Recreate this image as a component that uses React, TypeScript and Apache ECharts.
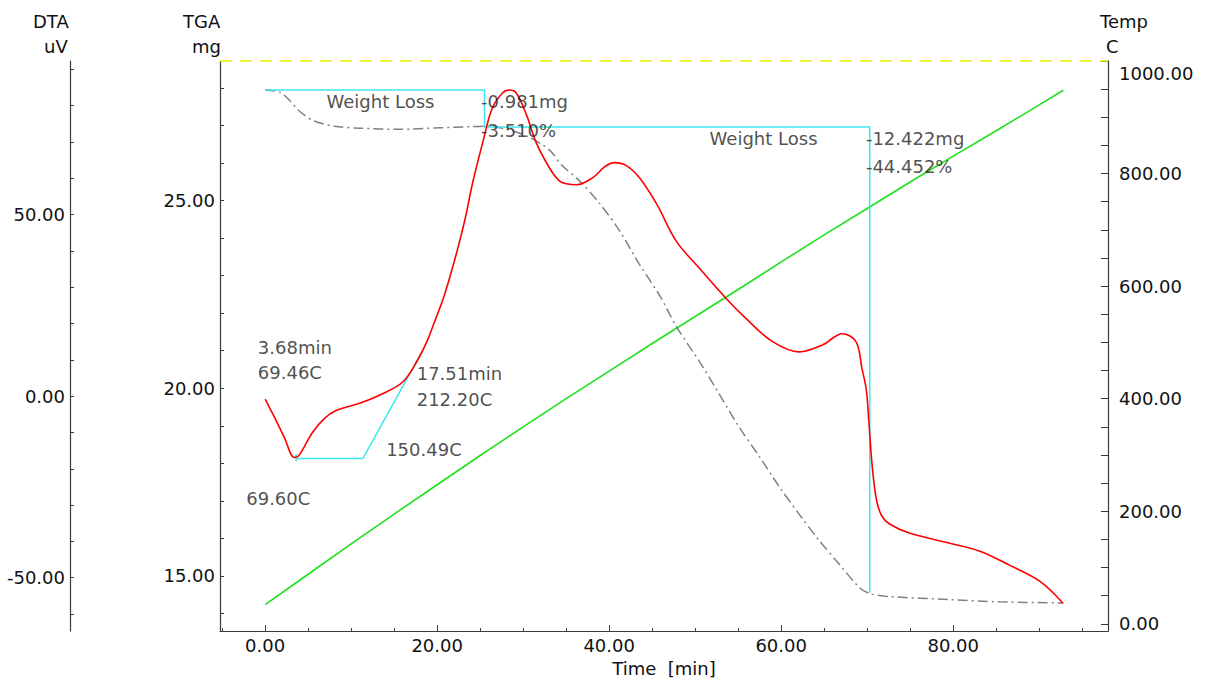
import React, { useEffect, useRef } from "react";
import * as echarts from "echarts";

const FONT = '"DejaVu Sans", "Liberation Sans", Arial, sans-serif';
const FS = 18;

// Axis ranges
const X_MIN = -5.25;
const X_MAX = 98;
const TGA_MIN = 13.53;
const TGA_MAX = 28.72;
const DTA_MIN = -64.7;
const DTA_MAX = 92.3;
const TEMP_MIN = -13;
const TEMP_MAX = 1000;

// Tick values
const xMinorTicks = [-5, 0, 5, 10, 15, 20, 25, 30, 35, 40, 45, 50, 55, 60, 65, 70, 75, 80, 85, 90, 95];
const xLabels = [0, 20, 40, 60, 80];
const tgaTicks = [14, 15, 16, 17, 18, 19, 20, 21, 22, 23, 24, 25, 26, 27, 28];
const tgaLabels = [15, 20, 25];
const dtaTicks = [-60, -50, -40, -30, -20, -10, 0, 10, 20, 30, 40, 50, 60, 70, 80, 90];
const dtaLabels = [-50, 0, 50];
const tempTicks = [0, 50, 100, 150, 200, 250, 300, 350, 400, 450, 500, 550, 600, 650, 700, 750, 800, 850, 900, 950, 1000];
const tempLabels = [0, 200, 400, 600, 800, 1000];

// TGA (mg) vs time (min)
const tgaTime = [0, 1.7, 2.8, 4.0, 5.7, 8.1, 11.0, 15.6, 20.3, 23.8, 26.1, 28.4, 30.7, 33.1, 34.5, 36.5, 38.9, 41.2, 43.5, 45.9, 47.8, 50.5, 52.5, 55.1, 57.5, 59.8, 62.1, 64.4, 66.8, 69.1, 70.3, 72.6, 79.6, 85.4, 92.7];
const tgaMass = [27.95, 27.89, 27.68, 27.38, 27.12, 26.98, 26.93, 26.9, 26.94, 26.97, 26.98, 26.88, 26.69, 26.34, 25.94, 25.54, 24.92, 24.2, 23.31, 22.46, 21.65, 20.71, 19.96, 18.97, 18.17, 17.37, 16.64, 15.95, 15.3, 14.69, 14.53, 14.45, 14.37, 14.31, 14.28];

// DTA (uV) vs time (min)
const dtaTime = [0, 1.08, 2.24, 3.4, 4.0, 5.5, 6.9, 8.3, 9.8, 11.3, 13.6, 16.0, 17.6, 18.8, 19.7, 20.8, 22.0, 23.2, 24.1, 25.3, 26.4, 27.6, 28.4, 29.2, 30.4, 31.5, 33.1, 34.2, 35.0, 36.2, 38.1, 39.5, 40.6, 42.0, 43.5, 45.5, 47.8, 50.5, 53.6, 55.9, 59.0, 62.1, 64.8, 67.1, 68.7, 69.4, 69.9, 70.2, 70.6, 71.1, 71.7, 72.6, 74.9, 79.6, 83.1, 86.6, 90.1, 92.8];
const dtaValue = [-0.8, -5.8, -11.4, -16.9, -16.1, -10.0, -6.1, -3.9, -2.8, -1.7, 0.6, 3.9, 9.4, 15.0, 20.5, 27.5, 37.2, 48.3, 58.5, 69.9, 79.3, 83.5, 84.3, 83.5, 77.4, 69.9, 62.7, 59.3, 58.5, 58.2, 60.2, 63.2, 64.3, 63.5, 60.2, 53.0, 42.7, 35.2, 26.9, 21.4, 15.0, 12.2, 14.1, 17.2, 15.0, 7.5, 1.7, -7.2, -19.7, -28.8, -33.0, -35.2, -37.7, -40.5, -42.7, -46.6, -51.0, -57.1];

// Temperature (C) vs time (min)
const tempTime = [0, 5, 10, 15, 20, 25, 30, 35, 40, 45, 50, 55, 60, 65, 70, 75, 80, 85, 90, 92.8];
const tempValue = [34, 88, 142, 195, 247, 299, 350, 400, 449, 498, 546, 594, 643, 691, 738, 785, 831, 876, 922, 948];

// Weight-loss step analysis (TGA axis)
const stepTime = [0, 25.5, 25.5, 70.3, 70.3];
const stepMass = [27.945, 27.945, 26.964, 26.964, 14.542];

// DTA onset analysis (DTA axis)
const onsetTime = [3.6, 11.35, 18.33];
const onsetValue = [-17.2, -17.2, 12.6];
const onsetTickTime = [3.6, 3.6];
const onsetTickValue = [-15.9, -17.9];

// Annotation texts placed in (time, TGA mg) coordinates
const annoText = ["Weight Loss", "-0.981mg", "-3.510%", "Weight Loss", "-12.422mg", "-44.452%", "3.68min", "69.46C", "17.51min", "212.20C", "150.49C", "69.60C"];
const annoTime = [13.41, 25.1, 25.1, 57.95, 69.85, 69.85, -0.85, -0.85, 17.62, 17.62, 14.07, -2.2];
const annoMass = [27.65, 27.65, 26.88, 26.66, 26.66, 25.91, 21.09, 20.42, 20.40, 19.70, 18.38, 17.05];
const annoAlign = ["center", "left", "left", "center", "left", "left", "left", "left", "left", "left", "left", "left"];

const zip = (a: number[], b: number[]) => a.map((v, i) => [v, b[i]]);

export default function App() {
  const ref = useRef<HTMLDivElement>(null);
  useEffect(() => {
    if (!ref.current) return;
    const chart = echarts.init(ref.current, null, { renderer: "svg" });
    const axisColor = "#3a3a3a";
    const labelStyle = { fontFamily: FONT, fontSize: FS, color: "#111" };
    const fmt2 = (v: number) => Number(v).toFixed(2);

    const option: any = {
      animation: false,
      backgroundColor: "#ffffff",
      grid: { left: 220, right: 100, top: 61, bottom: 48, containLabel: false },
      xAxis: [
        {
          type: "value",
          min: X_MIN,
          max: X_MAX,
          position: "bottom",
          axisLine: { show: true, onZero: false, lineStyle: { color: axisColor, width: 1.2 } },
          axisTick: { show: true, inside: true, length: 3, customValues: xMinorTicks, lineStyle: { color: axisColor } },
          axisLabel: { ...labelStyle, margin: 5, customValues: xLabels, formatter: fmt2 },
          splitLine: { show: false },
          name: "Time  [min]",
          nameLocation: "middle",
          nameGap: 27,
          nameTextStyle: { fontFamily: FONT, fontSize: FS, color: "#111" },
        },
        {
          type: "value",
          min: X_MIN,
          max: X_MAX,
          position: "bottom",
          axisLine: { show: false, onZero: false },
          axisTick: { show: true, inside: true, length: 6, customValues: xLabels, lineStyle: { color: axisColor } },
          axisLabel: { show: false },
          splitLine: { show: false },
        },
      ],
      yAxis: [
        {
          type: "value",
          min: TGA_MIN,
          max: TGA_MAX,
          position: "left",
          axisLine: { show: true, onZero: false, lineStyle: { color: axisColor, width: 1.2 } },
          axisTick: { show: true, inside: true, length: 4, customValues: tgaTicks, lineStyle: { color: axisColor } },
          axisLabel: { ...labelStyle, margin: 5, customValues: tgaLabels, formatter: fmt2 },
          splitLine: { show: false },
        },
        {
          type: "value",
          min: DTA_MIN,
          max: DTA_MAX,
          position: "left",
          offset: 150,
          axisLine: { show: true, onZero: false, lineStyle: { color: axisColor, width: 1.2 } },
          axisTick: { show: true, inside: true, length: 4, customValues: dtaTicks, lineStyle: { color: axisColor } },
          axisLabel: { ...labelStyle, margin: 5, customValues: dtaLabels, formatter: fmt2 },
          splitLine: { show: false },
        },
        {
          type: "value",
          min: TEMP_MIN,
          max: TEMP_MAX,
          position: "right",
          axisLine: { show: true, onZero: false, lineStyle: { color: axisColor, width: 1.2 } },
          axisTick: { show: true, inside: true, length: 7, customValues: tempTicks, lineStyle: { color: axisColor } },
          axisLabel: {
            ...labelStyle,
            margin: 11,
            customValues: tempLabels,
            formatter: (v: number) => (v >= TEMP_MAX ? "{top|" + fmt2(v) + "}" : fmt2(v)),
            rich: { top: { fontFamily: FONT, fontSize: FS, color: "#111", padding: [24, 0, 0, 0] } },
          },
          splitLine: { show: false },
        },
      ],
      graphic: [
        { type: "text", left: 33, top: 12, style: { text: "DTA", font: `${FS}px ${FONT}`, fill: "#111" } },
        { type: "text", left: 44, top: 37, style: { text: "uV", font: `${FS}px ${FONT}`, fill: "#111" } },
        { type: "text", left: 183, top: 12, style: { text: "TGA", font: `${FS}px ${FONT}`, fill: "#111" } },
        { type: "text", left: 192, top: 37, style: { text: "mg", font: `${FS}px ${FONT}`, fill: "#111" } },
        { type: "text", left: 1100, top: 12, style: { text: "Temp", font: `${FS}px ${FONT}`, fill: "#111" } },
        { type: "text", left: 1106, top: 37, style: { text: "C", font: `${FS}px ${FONT}`, fill: "#111" } },
      ],
      series: [
        {
          name: "Temp",
          type: "line",
          xAxisIndex: 0,
          yAxisIndex: 2,
          data: zip(tempTime, tempValue),
          showSymbol: false,
          lineStyle: { color: "#1ee01e", width: 1.6 },
          z: 2,
        },
        {
          name: "TGA",
          type: "line",
          xAxisIndex: 0,
          yAxisIndex: 0,
          data: zip(tgaTime, tgaMass),
          showSymbol: false,
          smooth: 0.3,
          lineStyle: { color: "#808080", width: 1.5, type: [10, 4, 2, 4] },
          markLine: {
            silent: true,
            symbol: ["none", "none"],
            label: { show: false },
            lineStyle: { color: "#ecec00", width: 1.5, type: [12, 8] },
            data: [{ yAxis: TGA_MAX }],
          },
          z: 3,
        },
        {
          name: "Weight Loss",
          type: "line",
          xAxisIndex: 0,
          yAxisIndex: 0,
          data: zip(stepTime, stepMass),
          showSymbol: false,
          lineStyle: { color: "#3ee6f0", width: 1.5 },
          z: 4,
        },
        {
          name: "Onset",
          type: "line",
          xAxisIndex: 0,
          yAxisIndex: 1,
          data: zip(onsetTime, onsetValue),
          showSymbol: false,
          lineStyle: { color: "#3ee6f0", width: 1.5 },
          z: 4,
        },
        {
          name: "OnsetTick",
          type: "line",
          xAxisIndex: 0,
          yAxisIndex: 1,
          data: zip(onsetTickTime, onsetTickValue),
          showSymbol: false,
          lineStyle: { color: "#3ee6f0", width: 1.5 },
          z: 4,
        },
        {
          name: "DTA",
          type: "line",
          xAxisIndex: 0,
          yAxisIndex: 1,
          data: zip(dtaTime, dtaValue),
          showSymbol: false,
          smooth: 0.35,
          lineStyle: { color: "#ff0000", width: 1.6 },
          z: 5,
        },
        {
          name: "Annotations",
          type: "scatter",
          xAxisIndex: 0,
          yAxisIndex: 0,
          symbolSize: 0.1,
          itemStyle: { color: "rgba(0,0,0,0)" },
          silent: true,
          z: 6,
          data: annoText.map((t, i) => ({
            name: t,
            value: [annoTime[i], annoMass[i]],
            label: {
              show: true,
              position: "inside",
              align: annoAlign[i],
              verticalAlign: "middle",
              formatter: t,
              fontFamily: FONT,
              fontSize: FS,
              color: "#222",
            },
          })),
        },
      ],
    };
    chart.setOption(option);
    return () => chart.dispose();
  }, []);
  return (
    <div
      ref={ref}
      style={{ position: "fixed", left: 0, top: 0, width: 1208, height: 682, background: "#fff" }}
    />
  );
}
